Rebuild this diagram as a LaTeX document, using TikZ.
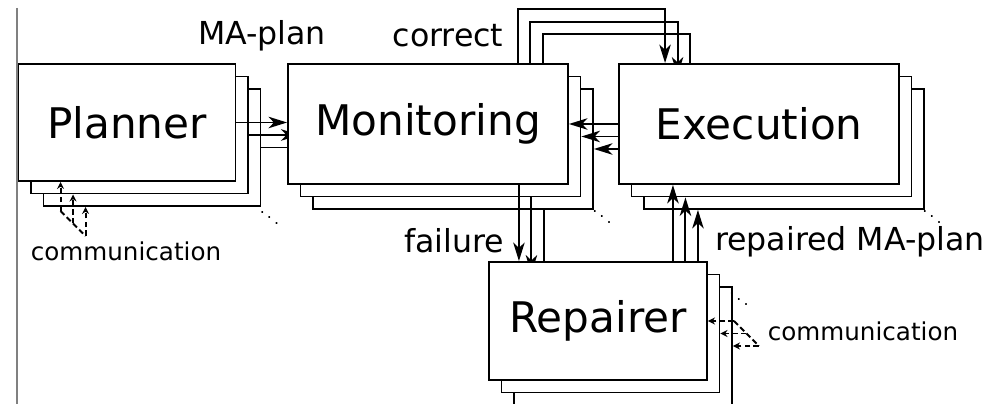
\documentclass[tikz,border=0pt]{standalone}
\usepackage{fontspec}
\setmainfont{DejaVu Sans}
\usetikzlibrary{calc,arrows.meta}
\tikzset{
    agent/.style={draw=black,fill=white,line width=1.1pt,inner sep=0pt,
        font=\fontsize{24}{28}\selectfont},
    flow/.style={line width=1.1pt,-{Stealth[length=10.5pt,width=6.5pt,inset=3pt]}},
    talk/.style={line width=1.1pt,dash pattern=on 3.2pt off 1.8pt,-{Stealth[length=4pt,width=4pt]}},
    lbl/.style={font=\fontsize{18}{20}\selectfont,anchor=base,inner sep=0pt},
    small/.style={font=\fontsize{14}{16}\selectfont,anchor=base,inner sep=0pt},
    more/.style={font=\fontsize{9}{9}\selectfont\boldmath,inner sep=0pt,anchor=base east}
}
\begin{document}
\begin{tikzpicture}[x=0.02cm,y=-0.02cm]
    \useasboundingbox (0,0) rectangle (1005,404);
    \clip (0,0) rectangle (1005,404);
    \draw[gray,line width=0.6pt] (17,8) -- (17,404);
    % stacks of agents, back layer first
    \foreach \k in {2,1,0} {
        \node[agent,minimum width=4.34cm,minimum height=2.34cm] (plan\k) at ({127+12.5*\k},{122.5+12.5*\k}) {\ifnum\k=0 Planner\fi};
        \node[agent,minimum width=5.6cm,minimum height=2.4cm] (mon\k) at ({428+12.5*\k},{124+12.5*\k}) {\ifnum\k=0 Monitoring\fi};
        \node[agent,minimum width=5.6cm,minimum height=2.4cm] (exe\k) at ({759+12.5*\k},{124+12.5*\k}) {\ifnum\k=0 Execution\fi};
        \node[agent,minimum width=4.36cm,minimum height=2.36cm] (rep\k) at ({598+12.5*\k},{321+12.5*\k}) {\ifnum\k=0 Repairer\fi};
        \coordinate (cs\k) at ($(mon\k.north east)+(-51,0)$);
        \coordinate (ce\k) at ($(exe\k.north west)+(47,0)$);
        \coordinate (fs\k) at ($(mon\k.south east)+(-50,0)$);
        \coordinate (rs\k) at ($(rep\k.north east)+(-35,0)$);
        \coordinate (pc\k) at ($(plan\k.south west)+(43,29)$);
        \coordinate (rc\k) at ($(rep\k.east)+(26,0)$);
        \draw[flow] (plan\k.east) -- (plan\k.east -| mon\k.west);
        \draw[flow] (exe\k.west) -- (exe\k.west -| mon\k.east);
        \draw[flow] (cs\k) -- ++(0,-54) -| (ce\k);
        \draw[flow] (fs\k) -- (fs\k |- rep\k.north);
        \draw[flow] (rs\k) -- (rs\k |- exe\k.south);
        \draw[talk] (pc\k) -- (pc\k |- plan\k.south);
        \draw[talk] (rc\k) -- (rep\k.east);
    }
    \draw[line width=1.1pt,dash pattern=on 3.2pt off 1.8pt] (pc0) -- (pc2);
    \draw[line width=1.1pt,dash pattern=on 3.2pt off 1.8pt] (rc0) -- (rc2);
    % labels
    \node[lbl] (maplan) at (262,45) {MA-plan};
    \node[lbl] (correct) at (448,47) {correct};
    \node[lbl] (failure) at (454,253) {failure};
    \node[lbl] (repaired) at (850,251) {repaired MA-plan};
    \node[small] (pcomm) at (126,261) {communication};
    \node[small] (rcomm) at (863,341) {communication};
    \node[more] (pdots) at ($(plan2.south east)+(19,19)$) {$\ddots$};
    \node[more] (mdots) at ($(mon2.south east)+(19,15)$) {$\ddots$};
    \node[more] (edots) at ($(exe2.south east)+(18,15)$) {$\ddots$};
    \node[more] (rdots) at ($(rep2.north east)+(17,21)$) {$\ddots$};
\end{tikzpicture}
\end{document}
